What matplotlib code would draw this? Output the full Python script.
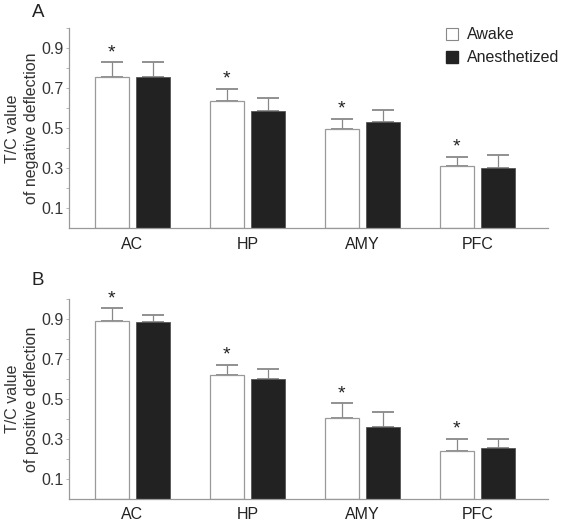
import numpy as np
import matplotlib.pyplot as plt
from matplotlib.patches import Patch

plt.rcParams['font.family'] = ['Liberation Sans', 'DejaVu Sans']

regions = ['AC', 'HP', 'AMY', 'PFC']

# panel A: negative deflection
neg_awake = [0.758, 0.637, 0.495, 0.310]
neg_awake_err = [0.072, 0.061, 0.053, 0.048]
neg_anes = [0.755, 0.588, 0.530, 0.303]
neg_anes_err = [0.077, 0.065, 0.063, 0.062]

# panel B: positive deflection
pos_awake = [0.891, 0.618, 0.405, 0.241]
pos_awake_err = [0.062, 0.053, 0.073, 0.061]
pos_anes = [0.883, 0.598, 0.360, 0.256]
pos_anes_err = [0.038, 0.053, 0.075, 0.046]

yticks = [0.1, 0.3, 0.5, 0.7, 0.9]
minor_yticks = [0.2, 0.4, 0.6, 0.8, 1.0]

fig = plt.figure(figsize=(5.66, 5.21), dpi=100)
axA = fig.add_axes([0.122, 0.5618, 0.846, 0.384])
axB = fig.add_axes([0.122, 0.0422, 0.846, 0.384])

x = np.arange(1, len(regions) + 1)
w = 0.296
off = 0.18

def draw_panel(ax, awake, awake_err, anes, anes_err, ylab, letter, letter_y):
    ax.bar(x - off, awake, w, color='white', edgecolor='#999999', linewidth=0.9, zorder=2)
    ax.bar(x + off, anes, w, color='#222222', edgecolor='#555555', linewidth=0.6, zorder=2)
    for xs, vals, errs in [(x - off, awake, awake_err), (x + off, anes, anes_err)]:
        ebar = ax.errorbar(xs, vals, yerr=[np.zeros(4), errs], fmt='none',
                           ecolor='#888888', elinewidth=0.9, capsize=8, capthick=1.3, zorder=1)
        for cap in ebar[1]:
            cap.set_color('#555555')
    for xi, v, e in zip(x - off, awake, awake_err):
        ax.text(xi, v + e + 0.005, '*', ha='center', va='bottom', fontsize=14, color='#222222')
    ax.set_xlim(0.45, 4.61)
    ax.set_ylim(0, 1.0)
    ax.set_yticks(yticks)
    ax.set_yticklabels(['%.1f' % t for t in yticks])
    ax.set_yticks(minor_yticks, minor=True)
    ax.set_xticks(x)
    ax.set_xticklabels(regions)
    ax.tick_params(axis='x', length=0, pad=6, labelsize=11.5, labelcolor='#222222')
    ax.tick_params(axis='y', which='both', length=2, width=0.6, color='#aaaaaa',
                   labelsize=11.5, labelcolor='#333333', pad=2)
    for s in ['top', 'right']:
        ax.spines[s].set_visible(False)
    for s in ['left', 'bottom']:
        ax.spines[s].set_color('#999999')
        ax.spines[s].set_linewidth(0.9)
    pos = ax.get_position()
    fig.text(0.039, (pos.y0 + pos.y1) / 2, ylab, rotation=90, ha='center', va='center',
             fontsize=11.5, color='#333333', linespacing=1.3, multialignment='center')
    fig.text(0.056, letter_y, letter, fontsize=13.5, color='#222222', ha='left', va='top')

draw_panel(axA, neg_awake, neg_awake_err, neg_anes, neg_anes_err,
           'T/C value\nof negative deflection', 'A', 0.993)
draw_panel(axB, pos_awake, pos_awake_err, pos_anes, pos_anes_err,
           'T/C value\nof positive deflection', 'B', 0.478)

# legend
handles = [Patch(facecolor='white', edgecolor='#888888', linewidth=0.8, label='Awake'),
           Patch(facecolor='#222222', edgecolor='#222222', label='Anesthetized')]
fig.legend(handles=handles, loc='upper left', bbox_to_anchor=(0.762, 0.975),
           frameon=False, fontsize=11.5, handlelength=0.75, handleheight=0.75,
           handletextpad=0.6, labelspacing=0.5, labelcolor='#222222')

fig.savefig('out.png', dpi=100)
